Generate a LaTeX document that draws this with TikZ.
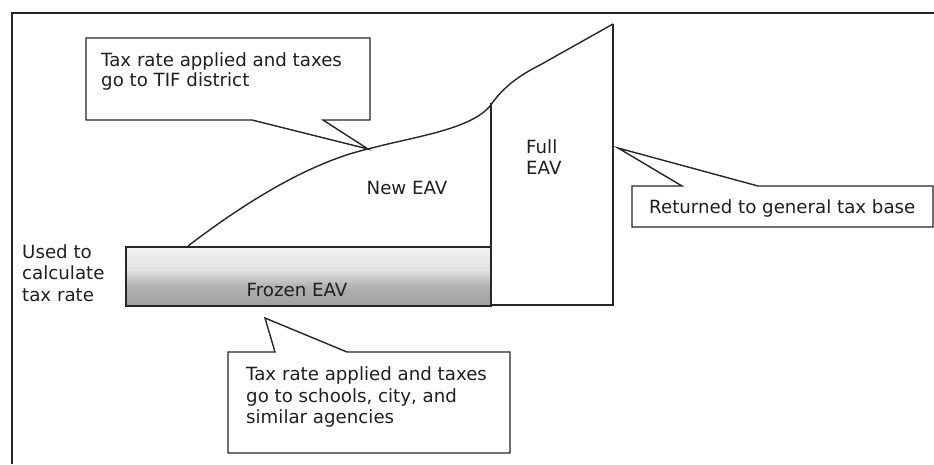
\documentclass[tikz,border=0pt]{standalone}
\usepackage{fontspec}
\setmainfont{DejaVu Sans}
\pgfdeclareverticalshading{frozenshade}{100bp}{color(0bp)=(black!38); color(25bp)=(black!38); color(42bp)=(black!30); color(55bp)=(black!12); color(75bp)=(black!5); color(100bp)=(black!5)}
\tikzset{
  lbl/.style={font=\fontsize{18.2}{21.3}\selectfont, inner sep=0pt, align=left, text=black!88},
  ln/.style={line width=1.4pt, draw=black!85, line join=miter},
  frame/.style={line width=2.2pt, draw=black!85}
}
\begin{document}
\begin{tikzpicture}[x=1pt,y=-1pt]
\useasboundingbox (0,0) rectangle (934,464);
\fill[white] (0,0) rectangle (934,464);
% outer frame (cut at right and bottom)
\coordinate (fbl) at (12,464);
\coordinate (ftl) at (12,13);
\coordinate (ftr) at (934,13);
\draw[frame] (fbl) -- (ftl) -- (ftr);

% frozen EAV bar
\coordinate (fz1) at (126,247);
\coordinate (fz2) at (491,306);
\shade[shading=frozenshade] (fz1) rectangle (fz2);
\draw[ln] (fz1) rectangle (fz2);

% full EAV column
\coordinate (fa) at (491,103);
\coordinate (fb) at (491,305);
\coordinate (fc) at (613,305);
\coordinate (fd) at (613,24);
\draw[ln] (fa) -- (fb) -- (fc) -- (fd);

% new EAV curve
\coordinate (c0) at (188,246);
\coordinate (c1) at (368,149);
\coordinate (c2) at (490,106);
\coordinate (c3) at (540,65);
\draw[ln] (c0) .. controls (260,191) and (320,160) .. (c1)
  .. controls (412,137) and (470,130) .. (c2)
  .. controls (500,92) and (512,79) .. (c3) -- (fd);

% top callout
\draw[ln, fill=white] (86,38) -- (370,38) -- (370,120) -- (323,120) -- (c1) -- (252,120) -- (86,120) -- cycle;
\node[lbl, anchor=west, font=\fontsize{18.2}{20.5}\selectfont] (tif) at (101,71.5) {Tax rate applied and taxes\\go to TIF district};

% bottom callout
\coordinate (btip) at (265,318);
\draw[ln, fill=white] (228,352) -- (275,352) -- (btip) -- (347,352) -- (510,352) -- (510,453) -- (228,453) -- cycle;
\node[lbl, anchor=west] (sch) at (246,397) {Tax rate applied and taxes\\go to schools, city, and\\similar agencies};

% right callout
\coordinate (rtip) at (618,148);
\draw[ln, fill=white] (632,186) -- (682,186) -- (rtip) -- (758,186) -- (933,186) -- (933,227) -- (632,227) -- cycle;
\node[lbl, anchor=west] (ret) at (649,208) {Returned to general tax base};

% labels
\node[lbl] (new) at (407,188) {New EAV};
\node[lbl, anchor=west] (full) at (526,157) {Full\\EAV};
\node[lbl] (frz) at (297,290) {Frozen EAV};
\node[lbl, anchor=west] (used) at (22,273) {Used to\\calculate\\tax rate};
\end{tikzpicture}
\end{document}
